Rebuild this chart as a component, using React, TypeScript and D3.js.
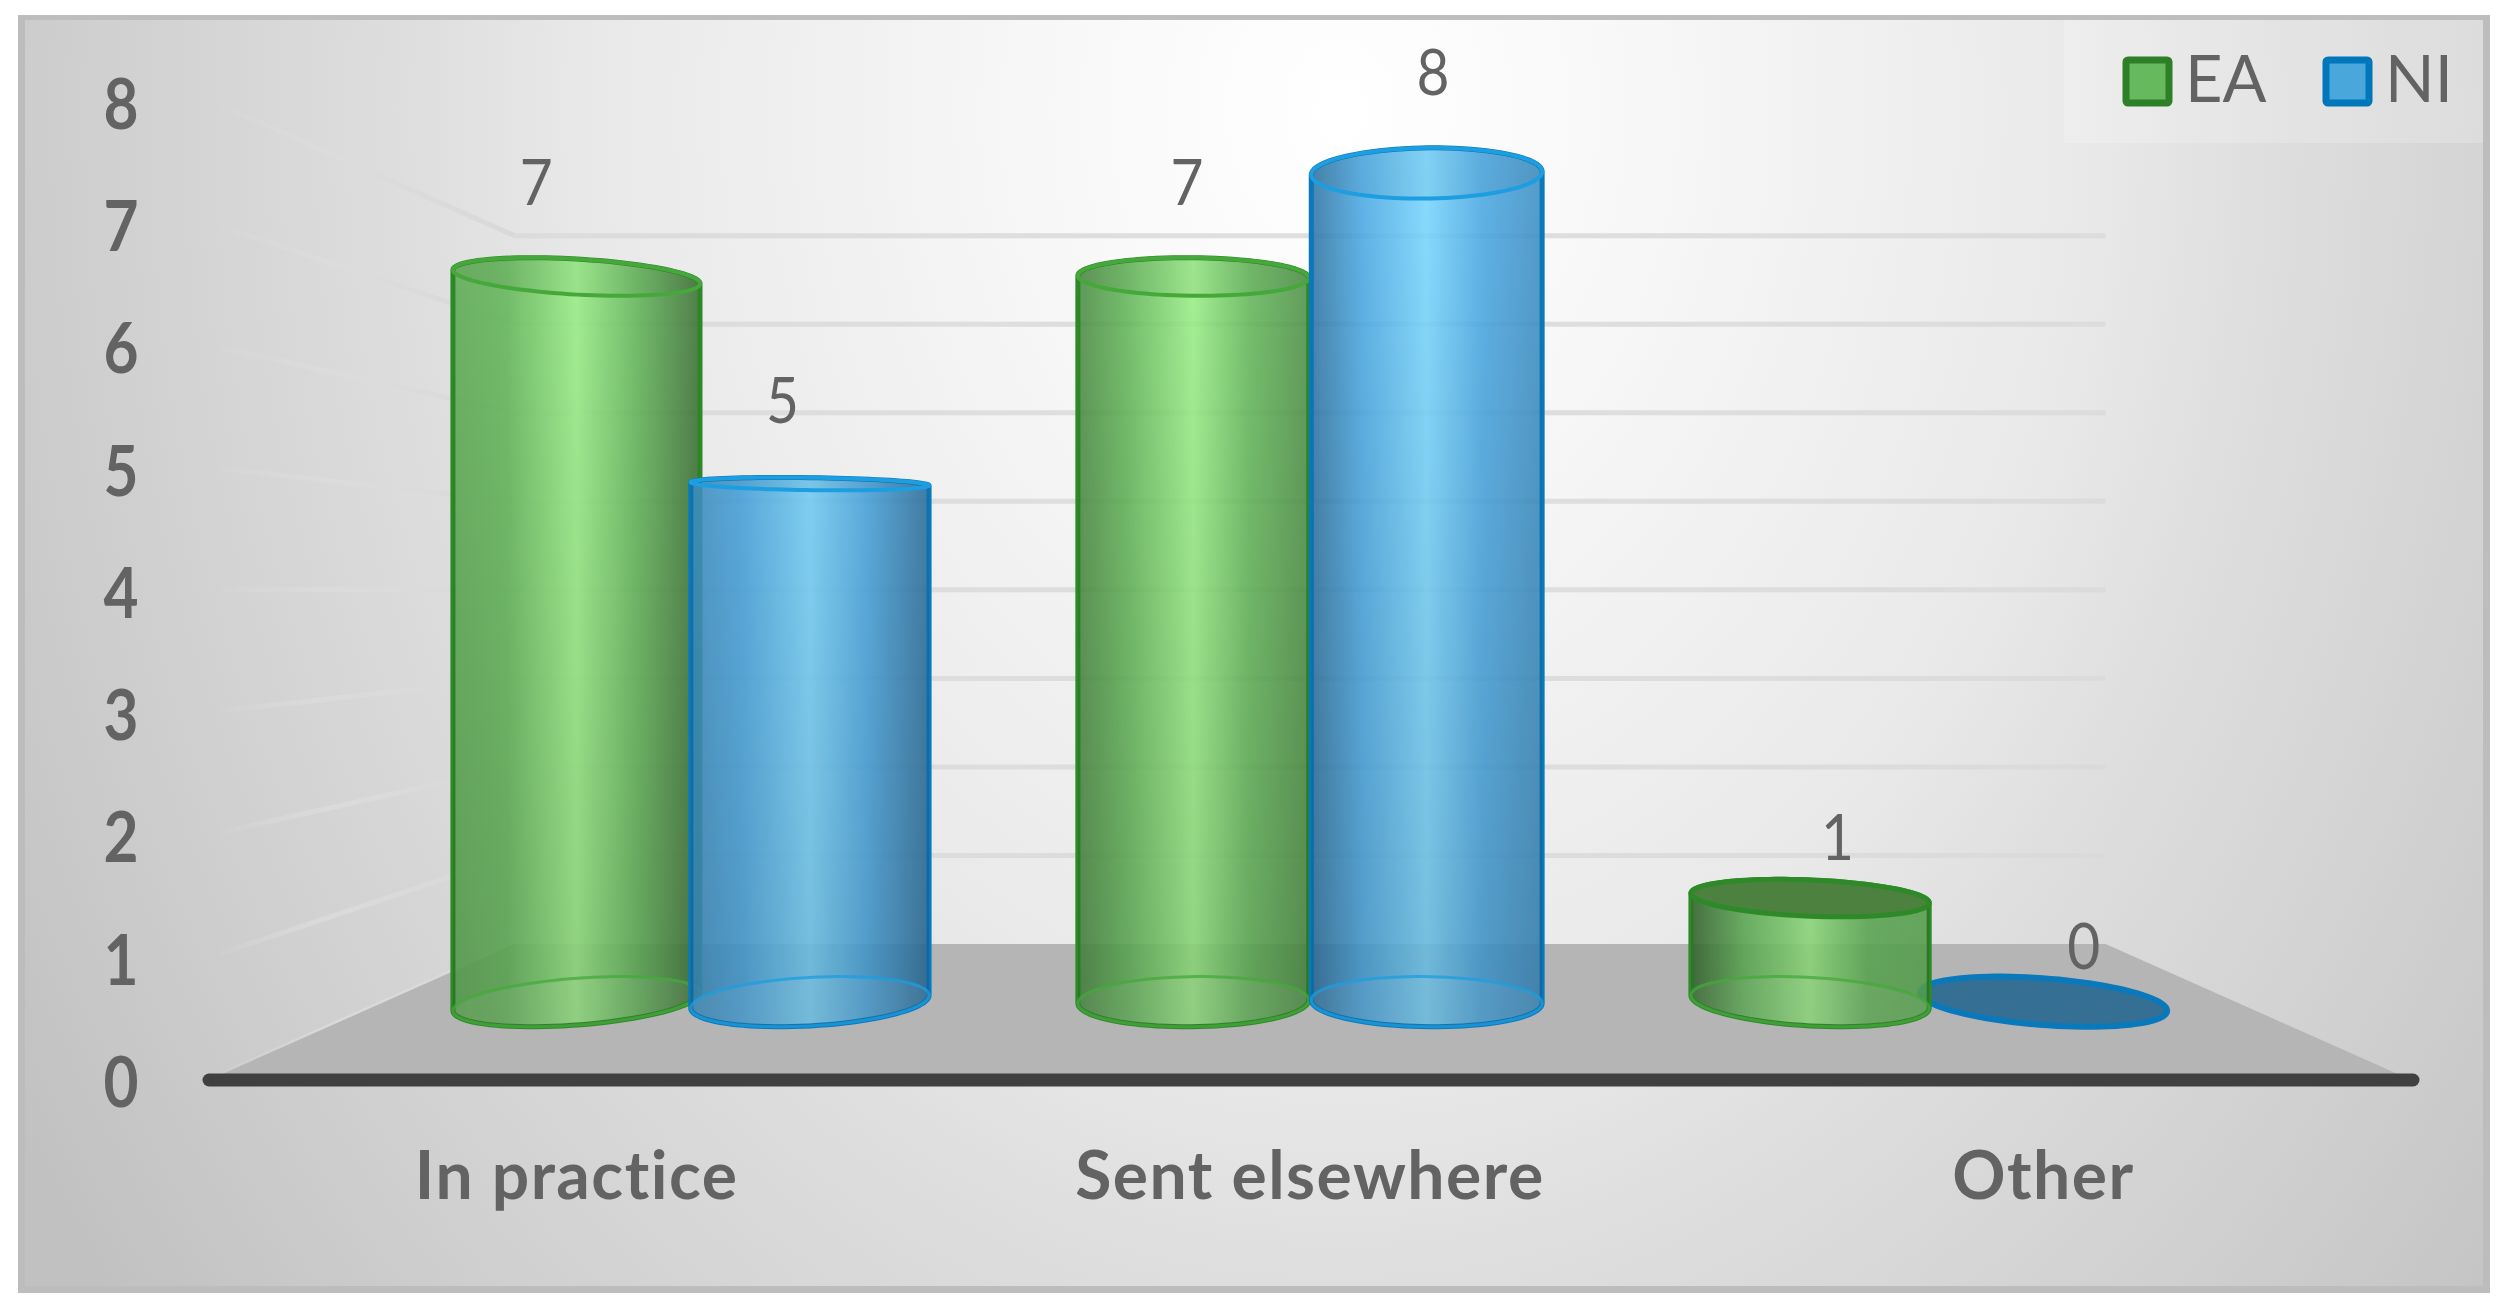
import React from "react";
import * as d3 from "d3";

const categories = ["In practice", "Sent elsewhere", "Other"];
const seriesNames = ["EA", "NI"];
const eaValues = [7, 7, 1];
const niValues = [5, 8, 0];
const yTicks = [0, 1, 2, 3, 4, 5, 6, 7, 8];

const seriesStyle: Record<string, any> = {
  EA: { line: "#2e8a28", inner: "#46a83b", legendLine: "#2e8028", legendFill: "#66b95c", mid: "#66bb5c", glow: "#9cf288", dark: "#3a6e33", cap: "#4d813f" },
  NI: { line: "#0a79bc", inner: "#1c9ee0", legendLine: "#0076bb", legendFill: "#49a7dc", mid: "#4aa9e4", glow: "#78d6ff", dark: "#25628c", cap: "#357094" },
};

const W = 2506;
const H = 1306;
const centerX = 1310;
const horizonY = 590;
const floorDrop = 485;
const unitH = 122;
const wallUnit = 121.3;
const backZ = 0.37;
const floorHalf = 1090;
const depthCenter = 0.1825;
const depthRadius = 0.072;
const labelDepth = 0.117;
const TEXT = "#636363";
const FONT = "Lato, 'Open Sans', sans-serif";

const project = (X: number, v: number, z: number, unit = unitH): [number, number] => {
  const s = 1 / (1 + z);
  return [centerX + X * s, horizonY + (floorDrop - unit * v) * s];
};

const xCat = d3.scaleBand<string>().domain(categories).range([-1090, 1090]);
const xLabel = d3.scaleBand<string>().domain(categories).range([-1100, 1100]);
const xSer = d3.scaleBand<string>().domain(seriesNames).range([-275, 275]);
const R = 136;
const shade = d3.scaleLinear().domain([-900, 600]).range([0.15, 1]).clamp(true);

const closed = d3.line<[number, number]>().curve(d3.curveLinearClosed);
const ring = (X: number, v: number): [number, number][] =>
  d3.range(0, 90).map((i) => {
    const a = (i / 90) * 2 * Math.PI;
    return project(X + R * Math.cos(a), v, depthCenter + depthRadius * Math.sin(a));
  });

type Bar = { id: string; series: string; value: number; X: number };
const bars: Bar[] = [];
categories.forEach((c, ci) => {
  seriesNames.forEach((s, si) => {
    const value = (s === "EA" ? eaValues : niValues)[ci];
    bars.push({ id: `b${ci}${si}`, series: s, value, X: (xCat(c) as number) + xCat.bandwidth() / 2 + (xSer(s) as number) + xSer.bandwidth() / 2 });
  });
});
const drawOrder = d3.sort(bars, (a, b) => d3.descending(Math.round(Math.abs(a.X)), Math.round(Math.abs(b.X))));

const backPoint = (v: number, side: number) => project(side * floorHalf, v, backZ, wallUnit);

export default function App() {
  const floor = closed([
    project(-floorHalf, 0, 0),
    project(floorHalf, 0, 0),
    project(floorHalf, 0, backZ),
    project(-floorHalf, 0, backZ),
  ]) as string;

  return (
    <svg width={W} height={H} viewBox={`0 0 ${W} ${H}`} style={{ position: "fixed", left: 0, top: 0, display: "block", background: "#fff", fontVariantLigatures: "none" }}>
      <defs>
        <radialGradient id="bg" gradientUnits="userSpaceOnUse" cx={0} cy={0} r={1} gradientTransform="translate(1340 110) scale(1550 1950)">
          <stop offset="0" stopColor="#ffffff" />
          <stop offset="0.2" stopColor="#f7f7f7" />
          <stop offset="0.48" stopColor="#e9e9e9" />
          <stop offset="0.6" stopColor="#dedede" />
          <stop offset="0.84" stopColor="#cdcdcd" />
          <stop offset="1" stopColor="#c1c1c1" />
        </radialGradient>
        <linearGradient id="wallFade" gradientUnits="userSpaceOnUse" x1={205} x2={513} y1={0} y2={0}>
          <stop offset="0" stopColor="#dcdcdc" stopOpacity={0} />
          <stop offset="0.4" stopColor="#dcdcdc" stopOpacity={0.8} />
          <stop offset="1" stopColor="#d9d9d9" stopOpacity={1} />
        </linearGradient>
        <linearGradient id="fall" gradientUnits="userSpaceOnUse" x1={0} x2={0} y1={150} y2={1030}>
          <stop offset="0" stopColor="#000" stopOpacity={0} />
          <stop offset="1" stopColor="#000" stopOpacity={0.13} />
        </linearGradient>
        {bars.map((b) => {
          const st = seriesStyle[b.series];
          const k = shade(b.X);
          const left = d3.interpolateRgb(st.mid, st.dark)(k);
          const right = d3.interpolateRgb(st.mid, st.dark)(1.1 - k);
          return (
            <linearGradient key={b.id} id={`grad-${b.id}`} x1="0" x2="1" y1="0" y2="0">
              <stop offset="0" stopColor={left} />
              <stop offset="0.22" stopColor={st.mid} />
              <stop offset="0.5" stopColor={st.glow} />
              <stop offset="0.74" stopColor={st.mid} />
              <stop offset="1" stopColor={right} />
            </linearGradient>
          );
        })}
      </defs>

      <rect x={18} y={15} width={2472} height={1278} fill="#bdbdbd" />
      <rect x={25} y={20} width={2458} height={1266} fill="url(#bg)" />

      {/* side wall gridlines */}
      {yTicks.map((t) => {
        const a = project(-floorHalf, t, 0, wallUnit);
        const b = backPoint(t, -1);
        return <line key={t} x1={a[0]} y1={a[1]} x2={b[0]} y2={b[1]} stroke="url(#wallFade)" strokeWidth={5} />;
      })}

      <path d={floor} fill="#b5b5b5" />

      {/* back wall gridlines */}
      {yTicks.filter((t) => t > 0).map((t) => {
        const a = backPoint(t, -1);
        const b = backPoint(t, 1);
        return <line key={t} x1={a[0]} y1={a[1]} x2={b[0]} y2={b[1]} stroke="#d9d9d9" strokeOpacity={0.85} strokeWidth={5} />;
      })}

      {/* axis */}
      <line x1={209} x2={2413} y1={1080} y2={1080} stroke="#404040" strokeWidth={13} strokeLinecap="round" />

      {yTicks.map((t) => (
        <text key={t} x={121} y={1082 - 122.3 * t + 25} textAnchor="middle" fontFamily={FONT} fontWeight={700} fontSize={70} textLength={35} lengthAdjust="spacingAndGlyphs" fill={TEXT}>
          {t}
        </text>
      ))}

      {/* cylinders */}
      {drawOrder.map((b) => {
        const st = seriesStyle[b.series];
        const bottom = ring(b.X, 0);
        if (b.value === 0) {
          return <path key={b.id} d={closed(bottom) as string} fill={st.cap} stroke={st.line} strokeWidth={6} />;
        }
        const top = ring(b.X, b.value);
        const hull = d3.polygonHull([...top, ...bottom]) as [number, number][];
        const seenFromAbove = unitH * b.value < floorDrop;
        const hullPath = closed(hull) as string;
        return (
          <g key={b.id}>
            <path d={hullPath} fill={`url(#grad-${b.id})`} fillOpacity={0.88} stroke={st.line} strokeWidth={5} strokeLinejoin="round" />
            <path d={hullPath} fill="url(#fall)" />
            <path d={closed(bottom) as string} fill="#ffffff" fillOpacity={0.05} stroke={st.inner} strokeOpacity={0.75} strokeWidth={3} />
            {seenFromAbove ? (
              <path d={closed(top) as string} fill={st.cap} stroke={st.line} strokeWidth={5} />
            ) : (
              <path d={closed(top) as string} fill="#000" fillOpacity={0.04} stroke={st.inner} strokeWidth={4} />
            )}
          </g>
        );
      })}

      {/* data labels */}
      {bars.map((b) => {
        const p = project(b.X, b.value, labelDepth);
        return (
          <text key={b.id} x={p[0]} y={p[1] - 78 + 23} textAnchor="middle" fontFamily={FONT} fontSize={64} textLength={33} lengthAdjust="spacingAndGlyphs" fill={TEXT}>
            {b.value}
          </text>
        );
      })}

      {/* category labels */}
      {categories.map((c) => (
        <text key={c} x={centerX + (xLabel(c) as number) + xLabel.bandwidth() / 2} y={1199} textAnchor="middle" fontFamily={FONT} fontWeight={700} fontSize={66} letterSpacing={1.5} fill={TEXT}>
          {c}
        </text>
      ))}

      {/* legend */}
      <rect x={2064} y={20} width={419} height={123} fill="#ffffff" fillOpacity={0.2} />
      {seriesNames.map((s, i) => {
        const st = seriesStyle[s];
        const x0 = 2126 + i * 200;
        return (
          <g key={s}>
            <rect x={x0} y={60} width={43} height={43} rx={2} fill={st.legendFill} stroke={st.legendLine} strokeWidth={7} />
            <text x={x0 + 59} y={102} fontFamily={FONT} fontSize={65} fill={TEXT}>
              {s}
            </text>
          </g>
        );
      })}
    </svg>
  );
}
